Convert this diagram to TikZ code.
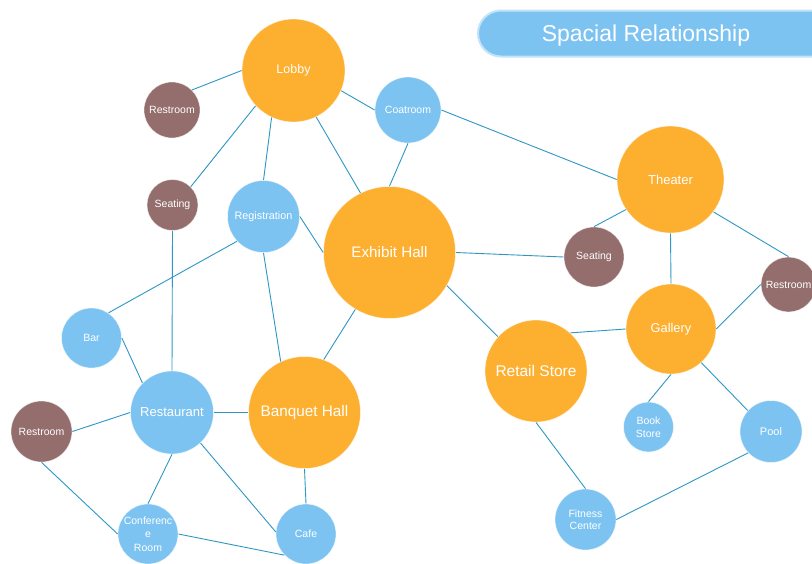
\documentclass[tikz,border=0pt]{standalone}
\usepackage{fontspec}
\setmainfont{Liberation Sans}
\begin{document}
\begin{tikzpicture}[x=1pt,y=-1pt,
  hub/.style={circle,inner sep=0pt,fill=orgc,draw=white,draw opacity=0.6,line width=0.7pt,text=white,align=center},
  room/.style={circle,inner sep=0pt,fill=bluc,draw=white,draw opacity=0.6,line width=0.7pt,text=white,align=center},
  rest/.style={circle,inner sep=0pt,fill=brnc,draw=white,draw opacity=0.6,line width=0.7pt,text=white,align=center},
  fs/.style={font=\fontsize{#1}{14}\selectfont},
  link/.style={draw=linc,line width=0.9pt},
  titlebox/.style={rounded corners=23pt,fill=titc,draw=titb,line width=2pt,minimum height=46pt,inner sep=0pt},
  titletext/.style={text=white,font=\fontsize{23}{27}\selectfont,inner sep=0pt,anchor=base}
]
\definecolor{orgc}{HTML}{FDAF30}
\definecolor{bluc}{HTML}{7DC3F2}
\definecolor{brnc}{HTML}{936E6D}
\definecolor{linc}{HTML}{2E97C4}
\definecolor{titc}{HTML}{7DC3F2}
\definecolor{titb}{HTML}{C2E4F9}
\useasboundingbox (0,0) rectangle (812,563);
\clip (0,0) rectangle (812,563);
\fill[white] (0,0) rectangle (812,563);

% title
\node[titlebox,minimum width=424pt,anchor=west] (title) at (477,33.5) {};
\node[titletext] (titletext) at (646,41.5) {Spacial Relationship};

% nodes
\node[hub,minimum size=103pt,fs=12.5] (lobby) at (293.5,70.5) {Lobby};
\node[rest,minimum size=56pt,fs=10.5] (rr1) at (172,110) {Restroom};
\node[room,minimum size=66pt,fs=10.5] (coat) at (408,110) {Coatroom};
\node[rest,minimum size=51pt,fs=10.5] (seat1) at (172.5,205) {Seating};
\node[room,minimum size=72pt,fs=10.8] (reg) at (263.5,216.5) {Registration};
\node[hub,minimum size=132pt,fs=15.2] (exh) at (389.5,252.5) {Exhibit Hall};
\node[hub,minimum size=107pt,fs=13] (thea) at (670.5,179.5) {Theater};
\node[rest,minimum size=60pt,fs=10.5] (seat2) at (594,257) {Seating};
\node[rest,minimum size=55pt,fs=10.5] (rr3) at (788.5,284.5) {Restroom};
\node[hub,minimum size=90pt,fs=12.8] (gal) at (671,329) {Gallery};
\node[hub,minimum size=102pt,fs=15.5] (retail) at (536,371) {Retail Store};
\node[room,minimum size=60pt,fs=10.5] (bar) at (91.5,338) {Bar};
\node[room,minimum size=83pt,fs=13] (resta) at (172,412.5) {Restaurant};
\node[hub,minimum size=112pt,fs=15.3] (banq) at (304.5,412.5) {Banquet Hall};
\node[rest,minimum size=61pt,fs=10.5] (rr2) at (41.5,431.5) {Restroom};
\node[room,minimum size=50pt,font=\fontsize{10.5}{12.5}\selectfont] (book) at (648.5,427) {Book\\Store};
\node[room,minimum size=62pt,fs=11] (pool) at (771,431.5) {Pool};
\node[room,minimum size=60pt,font=\fontsize{10.5}{13.5}\selectfont] (conf) at (148,534) {Conferenc\\e\\Room};
\node[room,minimum size=60pt,fs=10.5] (cafe) at (306,534) {Cafe};
\node[room,minimum size=61pt,font=\fontsize{10.5}{12.5}\selectfont] (fit) at (585.5,519.5) {Fitness\\Center};

% connectors
\path[link] (rr1.45) -- (lobby.180);
\path[link] (lobby.337) -- (coat.180);
\path[link] (lobby.223) -- (seat1.45);
\path[link] (lobby.245) -- (reg.90);
\path[link] (lobby.296) -- (exh.116);
\path[link] (coat.270) -- (exh.90);
\path[link] (coat.0) -- (thea.180);
\path[link] (reg.0) -- (exh.180);
\path[link] (reg.223) -- (bar.56);
\path[link] (reg.270) -- (banq.115);
\path[link] (seat1.270) -- (resta.90);
\path[link] (exh.0) -- (seat2.180);
\path[link] (exh.239) -- (banq.70);
\path[link] (exh.330) -- (retail.138);
\path[link] (thea.214) -- (seat2.90);
\path[link] (thea.270) -- (gal.90);
\path[link] (thea.323) -- (rr3.90);
\path[link] (gal.0) -- (rr3.180);
\path[link] (gal.180) -- (retail.48);
\path[link] (gal.270) -- (book.90);
\path[link] (gal.312) -- (pool.138);
\path[link] (retail.270) -- (fit.90);
\path[link] (fit.0) -- (pool.223);
\path[link] (bar.0) -- (resta.135);
\path[link] (resta.0) -- (banq.180);
\path[link] (resta.180) -- (rr2.0);
\path[link] (resta.270) -- (conf.90);
\path[link] (resta.313) -- (cafe.176);
\path[link] (banq.270) -- (cafe.90);
\path[link] (rr2.270) -- (conf.180);
\path[link] (conf.0) -- (cafe.224);
\end{tikzpicture}
\end{document}
